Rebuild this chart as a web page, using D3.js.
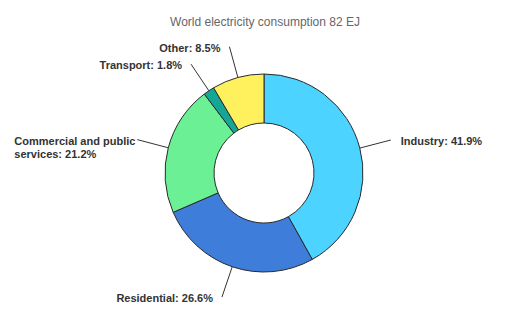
<!DOCTYPE html>
<html>
<head>
<meta charset="utf-8">
<script src="https://cdn.jsdelivr.net/npm/d3@7"></script>
<style>
  body { margin: 0; background: #fff; }
  text { font-family: "Liberation Sans", Arial, sans-serif; }
</style>
</head>
<body>
<div id="chart"></div>
<script>
// data
var categories = ["Industry", "Residential", "Commercial and public services", "Transport", "Other"];
var values = [41.9, 26.6, 21.2, 1.8, 8.5];
var colors = ["#4cd3ff", "#3e7dd9", "#6bf095", "#16a698", "#fff05e"];
var title = "World electricity consumption 82 EJ";

var width = 532, height = 326;
var cx = 264, cy = 173;
var outerR = 99, innerR = 50, lineR = 131;

var svg = d3.select("#chart")
  .append("svg")
    .attr("width", width)
    .attr("height", height);

svg.append("text")
  .attr("x", 265)
  .attr("y", 26)
  .attr("text-anchor", "middle")
  .style("font-size", "12px")
  .style("fill", "#666")
  .text(title);

var data = categories.map(function(c, i) { return {name: c, value: values[i], color: colors[i]}; });

var pie = d3.pie()
  .sort(null)
  .value(function(d) { return d.value; });

var arc = d3.arc()
  .innerRadius(innerR)
  .outerRadius(outerR);

var g = svg.append("g")
  .attr("transform", "translate(" + cx + "," + cy + ")");

var arcs = pie(data);

g.selectAll("path")
  .data(arcs)
  .enter().append("path")
    .attr("d", arc)
    .attr("fill", function(d) { return d.data.color; })
    .attr("stroke", "#2b2b2b")
    .attr("stroke-width", 1);

function pointAt(a, r) {
  return [r * Math.sin(a), -r * Math.cos(a)];
}

// leader lines
g.selectAll("line")
  .data(arcs)
  .enter().append("line")
    .each(function(d) {
      var m = (d.startAngle + d.endAngle) / 2;
      var p0 = pointAt(m, outerR), p1 = pointAt(m, lineR);
      d3.select(this)
        .attr("x1", p0[0]).attr("y1", p0[1])
        .attr("x2", p1[0]).attr("y2", p1[1]);
    })
    .attr("stroke", "#333")
    .attr("stroke-width", 1);

// labels
var labels = g.selectAll("text.lbl")
  .data(arcs)
  .enter().append("text")
    .attr("class", "lbl")
    .style("font-size", "11px")
    .style("font-weight", "bold")
    .style("fill", "#333")
    .each(function(d) {
      var m = (d.startAngle + d.endAngle) / 2;
      var p = pointAt(m, lineR);
      var right = Math.sin(m) > 0;
      var x = p[0] + (right ? 10 : -9);
      var t = d3.select(this)
        .attr("text-anchor", right ? "start" : "end");
      var label = d.data.name + ": " + d.data.value + "%";
      var lines = [label];
      if (d.data.name == "Commercial and public services") {
        lines = ["Commercial and public", "services: " + d.data.value + "%"];
        t.attr("text-anchor", "start");
        x = p[0] - 123;
      }
      lines.forEach(function(l, i) {
        t.append("tspan")
          .attr("x", x)
          .attr("y", p[1] + 5 + i * 13)
          .text(l);
      });
    });
</script>
</body>
</html>
